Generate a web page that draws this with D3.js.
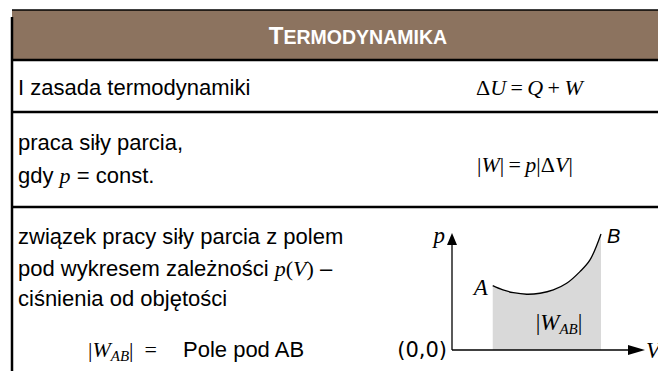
<!DOCTYPE html>
<meta charset="utf-8">
<style>
body { margin: 0; background: #fff; }
.sans { font-family: "Liberation Sans", Arial, sans-serif; }
.math { font-family: "Liberation Serif", serif; }
.rule { stroke: #000; stroke-width: 2.5px; }
</style>
<body>
<script src="https://cdn.jsdelivr.net/npm/d3@7"></script>
<script>

var width = 658,
    height = 371;

// table rows (y of the rule under each row)
var rowRules = [60, 112, 207];

// p(V) curve from A to B
var curveV = [2.11, 2.64, 3.18, 3.87, 4.56, 5.25, 5.94, 6.63, 7.15, 7.72];
var curveP = [3.30, 3.08, 2.94, 2.86, 2.91, 3.08, 3.42, 4.02, 4.62, 5.95];

var svg = d3.select("body").append("svg")
    .attr("width", width)
    .attr("height", height);

// header
svg.append("rect")
    .attr("x", 12).attr("y", 10)
    .attr("width", width - 12).attr("height", 50)
    .attr("fill", "#8c735f");

svg.append("line")
    .attr("x1", 12).attr("x2", width)
    .attr("y1", 10).attr("y2", 10)
    .attr("stroke", "#000").attr("stroke-width", 1.5);

svg.append("line")
    .attr("x1", 12).attr("x2", 12)
    .attr("y1", 17).attr("y2", height)
    .attr("stroke", "#000").attr("stroke-width", 2.5);

svg.selectAll(".rule")
    .data(rowRules)
    .enter().append("line")
    .attr("class", "rule")
    .attr("x1", 11).attr("x2", width)
    .attr("y1", function(d) { return d; })
    .attr("y2", function(d) { return d; });

var title = svg.append("text")
    .attr("class", "sans")
    .attr("x", 358).attr("y", 44)
    .attr("text-anchor", "middle")
    .attr("fill", "#fff")
    .style("font-weight", "bold");
title.append("tspan").style("font-size", "24px").text("T");
title.append("tspan").style("font-size", "19.5px").text("ERMODYNAMIKA");

function sansText(x, y, s) {
  return svg.append("text").attr("class", "sans")
      .attr("x", x).attr("y", y)
      .style("font-size", "22px").text(s);
}

function mathText(x, y, html) {
  return svg.append("text").attr("class", "math")
      .attr("x", x).attr("y", y)
      .style("font-size", "22px")
      .html(html);
}

// row 1
sansText(18, 95, "I zasada termodynamiki");
mathText(476, 95, "Δ<tspan font-style='italic'>U</tspan>\u2009=\u2009<tspan font-style='italic'>Q</tspan>\u2009+\u2009<tspan font-style='italic'>W</tspan>");

// row 2
sansText(18, 150, "praca siły parcia,");
var gdy = sansText(18, 183, "gdy ");
gdy.append("tspan").attr("class", "math").style("font-style", "italic").style("font-size", "22px").text("p");
gdy.append("tspan").text(" = const.");
mathText(477, 172, "|<tspan font-style='italic'>W</tspan>|\u2009=\u2009<tspan font-style='italic'>p</tspan>|Δ<tspan font-style='italic'>V</tspan>|");

// row 3
sansText(18, 244, "związek pracy siły parcia z polem");
var pod = sansText(18, 276, "pod wykresem zależności ");
pod.append("tspan").attr("class", "math").style("font-size", "22px")
    .html("<tspan font-style='italic'>p</tspan>(<tspan font-style='italic'>V</tspan>)");
pod.append("tspan").text(" –");
sansText(18, 306, "ciśnienia od objętości");

var pole = svg.append("text").attr("class", "math")
    .attr("x", 88).attr("y", 357)
    .style("font-size", "22px");
pole.append("tspan").text("|");
pole.append("tspan").style("font-style", "italic").text("W");
pole.append("tspan").style("font-style", "italic").style("font-size", "15px").attr("dy", 4).text("AB");
pole.append("tspan").attr("dy", -4).text("|\u2002=");
sansText(183, 357, "Pole pod AB");

// p(V) chart
var x = d3.scaleLinear().domain([0, 10]).range([452, 645]);
var y = d3.scaleLinear().domain([0, 6]).range([350, 233]);

var pts = curveV.map(function(v, i) { return [v, curveP[i]]; });

var area = d3.area()
    .x(function(d) { return x(d[0]); })
    .y0(y(0))
    .y1(function(d) { return y(d[1]); })
    .curve(d3.curveCatmullRom);

var line = d3.line()
    .x(function(d) { return x(d[0]); })
    .y(function(d) { return y(d[1]); })
    .curve(d3.curveCatmullRom);

svg.append("path")
    .datum(pts)
    .attr("d", area)
    .attr("fill", "#d9d9d9");

svg.append("path")
    .datum(pts)
    .attr("d", line)
    .attr("fill", "none")
    .attr("stroke", "#000")
    .attr("stroke-width", 1.3);

// axes
svg.append("line")
    .attr("x1", x(0)).attr("x2", x(10) - 10)
    .attr("y1", y(0)).attr("y2", y(0))
    .attr("stroke", "#000").attr("stroke-width", 1.3);
svg.append("line")
    .attr("x1", x(0)).attr("x2", x(0))
    .attr("y1", y(0)).attr("y2", y(6) + 8)
    .attr("stroke", "#000").attr("stroke-width", 1.3);

svg.append("path")
    .attr("d", "M" + x(10) + "," + y(0) + "l-17,-5v10z")
    .attr("fill", "#000");
svg.append("path")
    .attr("d", "M" + x(0) + "," + y(6) + "l-5,12h10z")
    .attr("fill", "#000");

svg.append("text").attr("class", "math")
    .attr("x", 445).attr("y", 243)
    .attr("text-anchor", "end")
    .style("font-size", "23px").style("font-style", "italic")
    .text("p");
svg.append("text").attr("class", "math")
    .attr("x", 646).attr("y", 358)
    .style("font-size", "23px").style("font-style", "italic")
    .text("V");
svg.append("text")
    .attr("x", 447).attr("y", 357)
    .attr("text-anchor", "end")
    .style("font-family", "DejaVu Sans")
    .style("font-size", "21px")
    .text("(0,0)");

svg.append("text").attr("class", "math")
    .attr("x", x(curveV[0]) - 5).attr("y", 295)
    .attr("text-anchor", "end")
    .style("font-size", "23px").style("font-style", "italic")
    .text("A");
svg.append("text").attr("class", "sans")
    .attr("x", 607).attr("y", 243)
    .style("font-size", "20px").style("font-style", "italic")
    .text("B");

var wab = svg.append("text").attr("class", "math")
    .attr("x", 559).attr("y", 330)
    .attr("text-anchor", "middle")
    .style("font-size", "23px");
wab.append("tspan").text("|");
wab.append("tspan").style("font-style", "italic").text("W");
wab.append("tspan").style("font-style", "italic").style("font-size", "15px").attr("dy", 4).text("AB");
wab.append("tspan").attr("dy", -4).text("|");

</script>
</body>
